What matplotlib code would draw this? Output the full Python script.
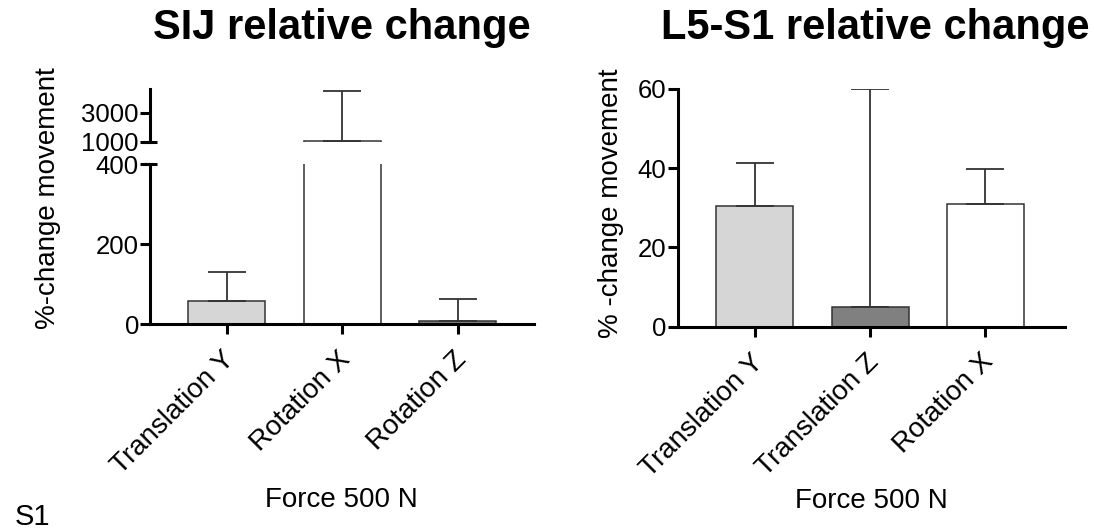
import matplotlib
matplotlib.use("Agg")
import matplotlib.pyplot as plt
import matplotlib.transforms as mtransforms

plt.rcParams['font.family'] = ['Liberation Sans', 'DejaVu Sans']

# SIJ panel (broken y axis)
sij_labels = ['Translation Y', 'Rotation X', 'Rotation Z']
sij_mean = [58, 1070, 7.5]
sij_sd = [73, 3414, 56]
sij_colors = ['#d6d6d6', '#ffffff', '#808080']

# L5-S1 panel
l5_labels = ['Translation Y', 'Translation Z', 'Rotation X']
l5_mean = [30.5, 5.05, 30.9]
l5_sd = [10.8, 54.9, 8.8]
l5_colors = ['#d6d6d6', '#808080', '#ffffff']

W, H = 1094, 531
fig = plt.figure(figsize=(W / 100, H / 100), dpi=100)


def frac(x0, y0, x1, y1):
    # pixel box (top-left origin) -> figure fraction rect
    return [x0 / W, 1 - y1 / H, (x1 - x0) / W, (y1 - y0) / H]


ax_lo = fig.add_axes(frac(150, 164.3, 534, 324))
ax_hi = fig.add_axes(frac(150, 89, 534, 141.7))
ax_r = fig.add_axes(frac(677.7, 89, 1065, 326.7))

LW = 2.2


def style(ax, bottom=True):
    for s in ['top', 'right']:
        ax.spines[s].set_visible(False)
    ax.spines['left'].set_linewidth(LW)
    ax.spines['bottom'].set_linewidth(LW)
    if not bottom:
        ax.spines['bottom'].set_visible(False)
    ax.tick_params(axis='both', width=LW, length=7, pad=1)
    ax.tick_params(axis='y', labelsize=18.5)
    ax.tick_params(axis='x', labelsize=20, pad=9)


def bars(ax, means, sds, colors):
    x = list(range(len(means)))
    ax.bar(x, means, width=0.667, color=colors, edgecolor='#333333',
           linewidth=1.1, zorder=2)
    ax.errorbar(x, means, yerr=[[0] * len(sds), sds], fmt='none',
                ecolor='#333333', elinewidth=1.3, capsize=14, capthick=1.3,
                zorder=3)
    return x


def xlabels(ax, labels):
    ax.set_xticks(range(len(labels)))
    ax.set_xticklabels(labels, rotation=45, ha='right', va='top',
                       rotation_mode='anchor')
    shift = mtransforms.ScaledTranslation(-5 / 100, 0, fig.dpi_scale_trans)
    for t in ax.get_xticklabels():
        t.set_transform(t.get_transform() + shift)


# left, lower part
bars(ax_lo, sij_mean, sij_sd, sij_colors)
ax_lo.set_ylim(0, 400)
ax_lo.set_yticks([0, 200, 400])
ax_lo.set_xlim(-0.664, 2.66)
style(ax_lo)
xlabels(ax_lo, sij_labels)

# left, upper part
bars(ax_hi, sij_mean, sij_sd, sij_colors)
ax_hi.set_ylim(1000, 4620)
ax_hi.set_yticks([1000, 3000])
ax_hi.set_xlim(-0.664, 2.66)
style(ax_hi, bottom=False)
ax_hi.set_xticks([])

# break marks
ax_lo.plot([-0.019, 0.019], [1, 1], transform=ax_lo.transAxes, color='k',
           lw=LW, clip_on=False, solid_capstyle='butt')
ax_hi.plot([-0.019, 0.019], [0, 0], transform=ax_hi.transAxes, color='k',
           lw=LW, clip_on=False, solid_capstyle='butt')

# right panel
bars(ax_r, l5_mean, l5_sd, l5_colors)
ax_r.set_ylim(0, 60)
ax_r.set_yticks([0, 20, 40, 60])
ax_r.set_xlim(-0.67, 2.69)
style(ax_r)
xlabels(ax_r, l5_labels)

# titles and labels
fig.text(341.5 / W, 1 - 39 / H, 'SIJ relative change', ha='center',
         va='baseline', fontsize=30, fontweight='bold')
fig.text(875 / W, 1 - 39 / H, 'L5-S1 relative change', ha='center',
         va='baseline', fontsize=30, fontweight='bold')
fig.text(48 / W, 1 - 198.5 / H, '%-change movement', rotation=90,
         ha='center', va='center', fontsize=20)
fig.text(611 / W, 1 - 203.5 / H, '% -change movement', rotation=90,
         ha='center', va='center', fontsize=20)
fig.text(341.7 / W, 1 - 507 / H, 'Force 500 N', ha='center',
         va='baseline', fontsize=20)
fig.text(871.5 / W, 1 - 508 / H, 'Force 500 N', ha='center',
         va='baseline', fontsize=20)
fig.text(15 / W, 1 - 525 / H, 'S1', ha='left', va='baseline', fontsize=21)

fig.savefig('out.png', dpi=100)
